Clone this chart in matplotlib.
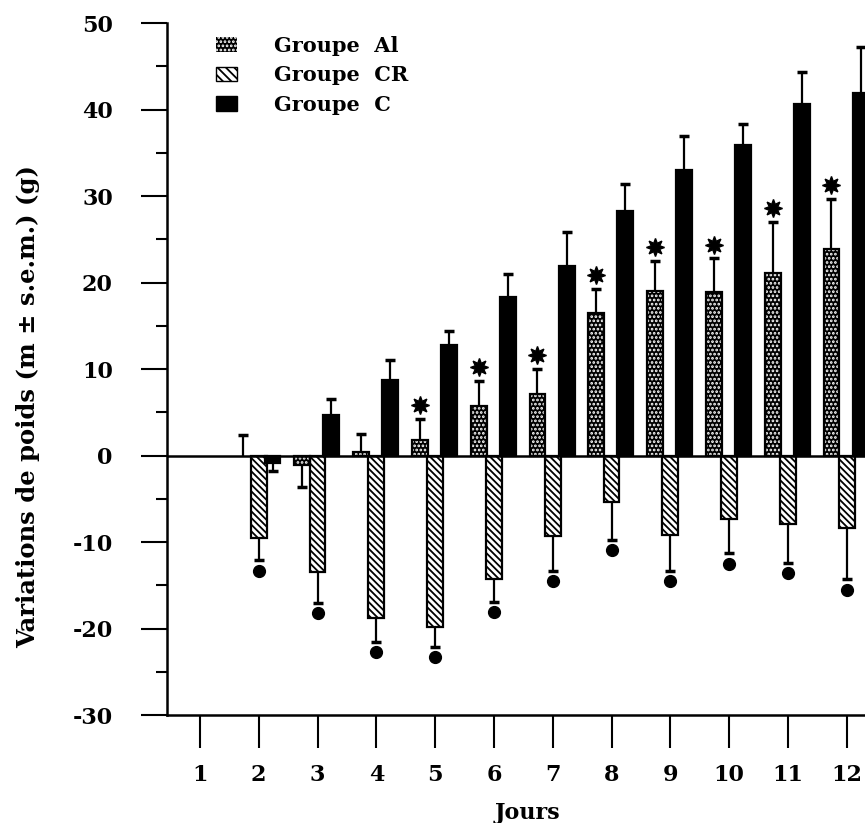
import matplotlib
matplotlib.use("Agg")
import matplotlib.pyplot as plt
from matplotlib.patches import Patch
from matplotlib.ticker import MultipleLocator
import numpy as np

days = [1, 2, 3, 4, 5, 6, 7, 8, 9, 10, 11, 12]
al_mean = [0, 0, -1.1, 0.45, 1.8, 5.7, 7.1, 16.5, 19.0, 18.9, 21.1, 23.9]
al_sem = [0, 2.4, 2.5, 2.1, 2.4, 2.9, 2.9, 2.8, 3.5, 3.9, 5.9, 5.8]
cr_mean = [0, -9.5, -13.5, -18.75, -19.8, -14.3, -9.3, -5.4, -9.15, -7.3, -7.9, -8.4]
cr_sem = [0, 2.6, 3.5, 2.75, 2.3, 2.6, 4.0, 4.3, 4.15, 4.0, 4.5, 5.9]
c_mean = [0, -0.9, 4.7, 8.7, 12.75, 18.3, 21.9, 28.3, 33.0, 35.9, 40.6, 41.9]
c_sem = [0, 0.9, 1.8, 2.4, 1.6, 2.7, 4.0, 3.1, 4.0, 2.4, 3.7, 5.3]
al_star = [False, False, False, False, True, True, True, True, True, True, True, True]
cr_dot = [False, True, True, True, True, True, True, True, True, True, True, True]

y_ticks = [-30, -20, -10, 0, 10, 20, 30, 40, 50]
labels = ["Groupe  Al", "Groupe  CR", "Groupe  C"]

FONT = "DejaVu Serif"
plt.rcParams["hatch.linewidth"] = 1.3

fig = plt.figure(figsize=(8.65, 8.23), dpi=100)
ax = fig.add_axes([0.193, 0.131, 0.807, 0.841])

x = np.array(days, dtype=float)
w = 0.27
off = {"al": -0.26, "cr": 0.0, "c": 0.235}

def draw_bars(xs, vals, face, hatch, hatch_col):
    mask = np.array(vals) != 0
    ax.bar(xs[mask], np.array(vals)[mask], width=w, color=face, edgecolor=hatch_col,
           hatch=hatch, linewidth=0, zorder=2)
    ax.bar(xs[mask], np.array(vals)[mask], width=w, fill=False, edgecolor="black",
           linewidth=1.6, zorder=3)

def draw_err(xs, vals, sems):
    vals = np.array(vals); sems = np.array(sems)
    m = sems > 0
    ends = vals + np.where(vals < 0, -sems, sems)
    ax.vlines(xs[m], vals[m], ends[m], color="black", linewidth=1.6, zorder=3)
    ax.plot(xs[m], ends[m], linestyle="none", marker="_", markersize=7,
            markeredgewidth=2.5, color="black", zorder=3)
    return ends

xa = x + off["al"]; xr = x + off["cr"]; xc = x + off["c"]

draw_bars(xa, al_mean, "black", "....", "white")
draw_bars(xr, cr_mean, "white", "\\\\\\\\\\", "black")
draw_bars(xc, c_mean, "black", None, "black")

ea = draw_err(xa, al_mean, al_sem)
er = draw_err(xr, cr_mean, cr_sem)
ec = draw_err(xc, c_mean, c_sem)

sa = np.array(al_star)
ax.plot(xa[sa], ea[sa] + 1.6, linestyle="none", marker=(8, 1, 0), markersize=13,
        color="black", zorder=4)
sd = np.array(cr_dot)
ax.plot(xr[sd], er[sd] - 1.2, linestyle="none", marker="o", markersize=8.5,
        color="black", zorder=4)

ax.axhline(0, color="black", linewidth=1.8, zorder=4)

ax.set_xlim(0.439, 12.31)
ax.set_ylim(-30, 50)
ax.set_xticks(days)
ax.set_xticklabels([str(d) for d in days])
ax.set_yticks(y_ticks)
ax.set_yticklabels([str(v) for v in y_ticks])
ax.yaxis.set_minor_locator(MultipleLocator(5))

for s in ["top", "right"]:
    ax.spines[s].set_visible(False)
for s in ["left", "bottom"]:
    ax.spines[s].set_linewidth(1.8)

ax.tick_params(axis="y", which="major", direction="out", length=19, width=1.5, pad=20)
ax.tick_params(axis="y", which="minor", direction="out", length=8, width=1.5)
ax.tick_params(axis="x", which="major", direction="out", length=24, width=1.5, pad=11)
for lab in ax.get_xticklabels() + ax.get_yticklabels():
    lab.set_fontfamily(FONT)
    lab.set_fontweight("bold")
    lab.set_fontsize(16)

fig.text(527 / 865, 1 - 813 / 823, "Jours", ha="center", va="center",
         family=FONT, fontweight="bold", fontsize=16)
fig.text(28 / 865, 1 - 407 / 823, "Variations de poids (m \u00b1 s.e.m.) (g)",
         rotation=90, ha="center", va="center", family=FONT, fontweight="bold",
         fontsize=17.5)

handles = [
    Patch(facecolor="black", edgecolor="white", hatch="....", linewidth=0),
    Patch(facecolor="white", edgecolor="black", hatch="\\\\\\\\", linewidth=1),
    Patch(facecolor="black", edgecolor="black"),
]
leg = ax.legend(handles, labels, loc="upper left", bbox_to_anchor=(216 / 865, 1 - 36 / 823),
                bbox_transform=fig.transFigure, frameon=False, handlelength=1.0,
                handleheight=0.7, handletextpad=1.8, labelspacing=0.45, borderpad=0,
                borderaxespad=0,
                prop={"family": FONT, "weight": "bold", "size": 15})

fig.savefig("out.png", dpi=100)
